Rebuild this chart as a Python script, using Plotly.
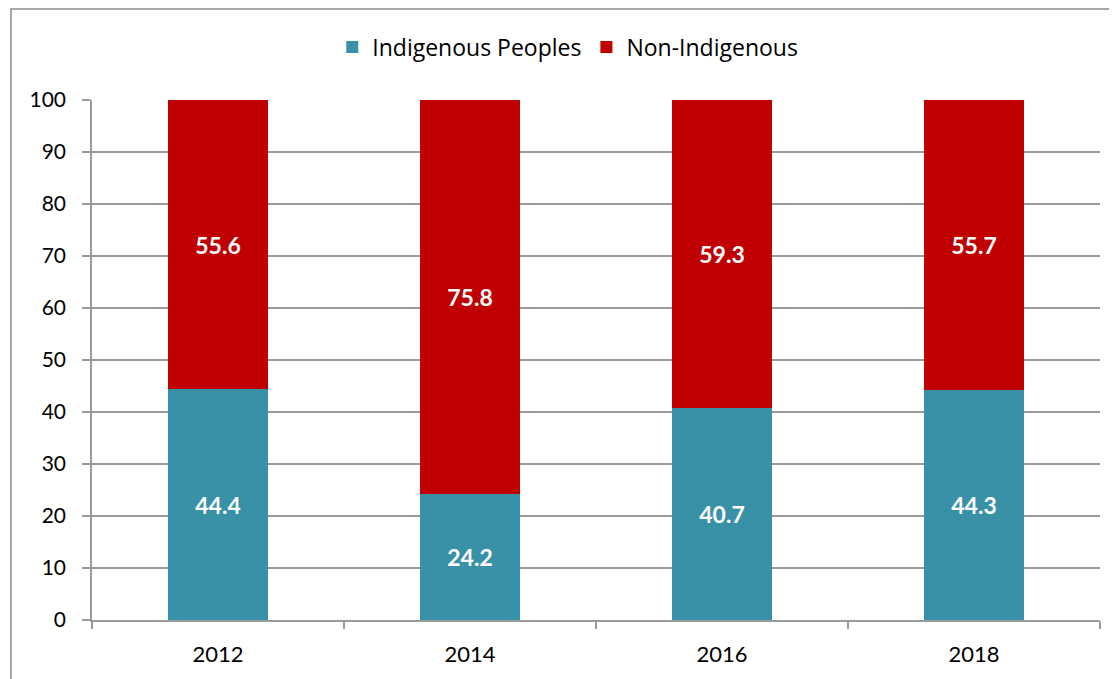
import plotly.graph_objects as go

years = ["2012", "2014", "2016", "2018"]
indigenous = [44.4, 24.2, 40.7, 44.3]
non_indigenous = [55.6, 75.8, 59.3, 55.7]
y_ticks = [0, 10, 20, 30, 40, 50, 60, 70, 80, 90, 100]

teal = "#3891A7"
red = "#C00000"
grid = "#9a9a9a"

fig = go.Figure()
fig.add_trace(go.Bar(
    x=years, y=indigenous, name="Indigenous Peoples",
    marker=dict(color=teal, line=dict(width=0)),
    text=[f"{v:.1f}" for v in indigenous], textposition="inside",
    insidetextanchor="middle", textangle=0, constraintext="none",
    textfont=dict(color="white", size=23, family="Lato", weight="bold"),
))
fig.add_trace(go.Bar(
    x=years, y=non_indigenous, name="Non-Indigenous",
    marker=dict(color=red, line=dict(width=0)),
    text=[f"{v:.1f}" for v in non_indigenous], textposition="inside",
    insidetextanchor="middle", textangle=0, constraintext="none",
    textfont=dict(color="white", size=23, family="Lato", weight="bold"),
))

# outer frame of the original figure box
fig.add_shape(type="rect", xref="paper", yref="paper",
              x0=-0.0804, x1=1.2, y0=-0.3, y1=1.175,
              line=dict(color="#8a8a8a", width=1.5), layer="below")

# page body adds an 8px offset, so the figure is 8px smaller
fig.update_layout(
    width=1109, height=671,
    barmode="stack", bargap=0.6,
    plot_bgcolor="white", paper_bgcolor="white",
    margin=dict(l=84, r=17, t=92, b=59),
    font=dict(family="Lato", size=20, color="black"),
    legend=dict(orientation="h", x=0.472, xanchor="center", y=1.102, yanchor="middle",
                font=dict(size=23, family="Open Sans"), itemwidth=30,
                traceorder="normal"),
    xaxis=dict(type="category", showgrid=False, showline=True, linecolor=grid,
               linewidth=1.5, ticks="outside", tickson="boundaries", ticklen=7,
               tickcolor=grid, tickwidth=1.5, tickfont=dict(size=22),
               ticklabelstandoff=14),
    yaxis=dict(range=[0, 100], tickvals=y_ticks, showgrid=True, gridcolor=grid,
               gridwidth=1.5, showline=True, linecolor=grid, linewidth=1.5,
               ticks="outside", ticklen=8, tickcolor=grid, tickwidth=1.5,
               tickfont=dict(size=21), zeroline=False, ticklabelstandoff=12),
)

fig.write_html("out.html")
